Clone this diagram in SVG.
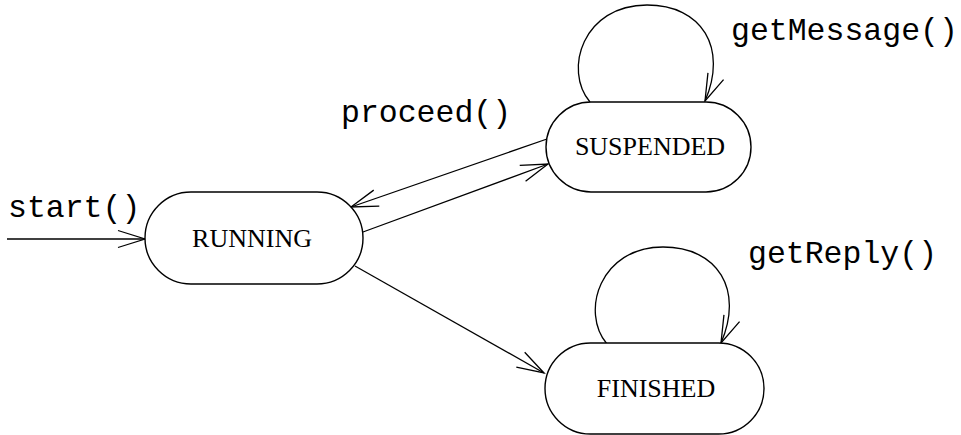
<svg xmlns="http://www.w3.org/2000/svg" width="961" height="435" viewBox="0 0 961 435">
  <style>
    .state rect { fill: #fff; stroke: #000; stroke-width: 1.4; }
    .state text { font-family: "Liberation Serif", "Times New Roman", serif; font-size: 26px; text-anchor: middle; fill: #000; }
    .edge { fill: none; stroke: #000; stroke-width: 1.3; marker-end: url(#open); }
    .label { font-family: "Liberation Mono", "Courier New", monospace; font-size: 31.5px; fill: #000; }
  </style>
  <defs>
    <!-- open V arrowhead, tip at the path end -->
    <marker id="open" markerUnits="userSpaceOnUse" viewBox="-30 -12 32 24" markerWidth="32" markerHeight="24" refX="0" refY="0" orient="auto" overflow="visible">
      <path d="M-27,-8.5 L0,0 L-27,8.5" fill="none" stroke="#000" stroke-width="1.3"/>
    </marker>
  </defs>

  <g id="connectors">
    <path class="edge" d="M7,239 L145,239"/>
    <path class="edge" d="M547,139 L351,207"/>
    <path class="edge" d="M363,232 L548,164"/>
    <path class="edge" d="M355,266 L544,373"/>
    <path class="edge" d="M590,102 C563,70 583,5 647,5 C702,5 728,48 705,101"/>
    <path class="edge" d="M607,344 C580,312 600,247 663,247 C718,247 744,290 721,343"/>
  </g>

  <g id="labels">
    <text class="label" x="8" y="217">start()</text>
    <text class="label" x="341" y="122">proceed()</text>
    <text class="label" x="731" y="40">getMessage()</text>
    <text class="label" x="748" y="263">getReply()</text>
  </g>

  <g id="running" class="state">
    <rect x="145" y="192" width="218" height="92" rx="46" ry="46"/>
    <text x="252" y="247">RUNNING</text>
  </g>
  <g id="suspended" class="state">
    <rect x="546" y="102" width="205" height="90" rx="45" ry="45"/>
    <text x="650" y="155">SUSPENDED</text>
  </g>
  <g id="finished" class="state">
    <rect x="545" y="343" width="219" height="91" rx="45.5" ry="45.5"/>
    <text x="656" y="397">FINISHED</text>
  </g>
</svg>
